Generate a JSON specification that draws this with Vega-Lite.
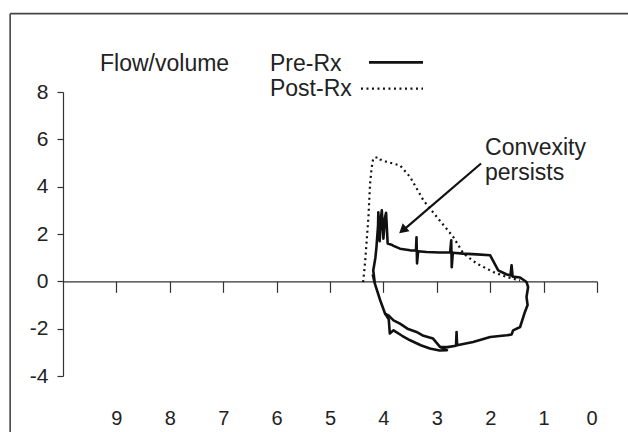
{
  "$schema": "https://vega.github.io/schema/vega-lite/v6.json",
  "width": 534,
  "height": 284,
  "autosize": "none",
  "padding": {"left": 63, "top": 92, "right": 31, "bottom": 56},
  "background": "white",
  "config": {"view": {"stroke": null}, "font": "Liberation Sans"},
  "datasets": {
    "pre": [
      {"seg": "A", "i": 1, "x": 4.16, "y": -0.1},
      {"seg": "A", "i": 2, "x": 4.19, "y": 0.46},
      {"seg": "A", "i": 3, "x": 4.15, "y": 1.0},
      {"seg": "A", "i": 4, "x": 4.13, "y": 1.45},
      {"seg": "A", "i": 5, "x": 4.1, "y": 2.36},
      {"seg": "A", "i": 6, "x": 4.095, "y": 2.92},
      {"seg": "A", "i": 7, "x": 4.07, "y": 1.7},
      {"seg": "A", "i": 8, "x": 4.05, "y": 2.6},
      {"seg": "A", "i": 9, "x": 4.03, "y": 3.0},
      {"seg": "A", "i": 10, "x": 4.0, "y": 1.8},
      {"seg": "A", "i": 11, "x": 3.97, "y": 2.7},
      {"seg": "A", "i": 12, "x": 3.95, "y": 2.9},
      {"seg": "A", "i": 13, "x": 3.92, "y": 1.6},
      {"seg": "A", "i": 14, "x": 3.85, "y": 1.55},
      {"seg": "A", "i": 15, "x": 3.81, "y": 1.5},
      {"seg": "A", "i": 16, "x": 3.69, "y": 1.38},
      {"seg": "A", "i": 17, "x": 3.5, "y": 1.31},
      {"seg": "A", "i": 18, "x": 3.39, "y": 1.3},
      {"seg": "A", "i": 19, "x": 3.38, "y": 1.86},
      {"seg": "A", "i": 20, "x": 3.37, "y": 0.76},
      {"seg": "A", "i": 21, "x": 3.35, "y": 1.27},
      {"seg": "A", "i": 22, "x": 3.19, "y": 1.24},
      {"seg": "A", "i": 23, "x": 2.95, "y": 1.22},
      {"seg": "A", "i": 24, "x": 2.75, "y": 1.23},
      {"seg": "A", "i": 25, "x": 2.73, "y": 1.73},
      {"seg": "A", "i": 26, "x": 2.72, "y": 0.6},
      {"seg": "A", "i": 27, "x": 2.7, "y": 1.21},
      {"seg": "A", "i": 28, "x": 2.5, "y": 1.17},
      {"seg": "A", "i": 29, "x": 2.25, "y": 1.14},
      {"seg": "A", "i": 30, "x": 2.0, "y": 1.1},
      {"seg": "A", "i": 31, "x": 1.95, "y": 0.89},
      {"seg": "A", "i": 32, "x": 1.85, "y": 0.46},
      {"seg": "A", "i": 33, "x": 1.7, "y": 0.3},
      {"seg": "A", "i": 34, "x": 1.62, "y": 0.25},
      {"seg": "A", "i": 35, "x": 1.6, "y": 0.68},
      {"seg": "A", "i": 36, "x": 1.58, "y": 0.2},
      {"seg": "A", "i": 37, "x": 1.44, "y": 0.16},
      {"seg": "A", "i": 38, "x": 1.32, "y": -0.03},
      {"seg": "A", "i": 39, "x": 1.29, "y": -0.24},
      {"seg": "A", "i": 40, "x": 1.32, "y": -0.66},
      {"seg": "A", "i": 41, "x": 1.3, "y": -1.0},
      {"seg": "A", "i": 42, "x": 1.36, "y": -1.36},
      {"seg": "A", "i": 43, "x": 1.44, "y": -1.93},
      {"seg": "A", "i": 44, "x": 1.57, "y": -2.07},
      {"seg": "A", "i": 45, "x": 1.6, "y": -2.25},
      {"seg": "A", "i": 46, "x": 1.69, "y": -2.28},
      {"seg": "A", "i": 47, "x": 2.0, "y": -2.35},
      {"seg": "A", "i": 48, "x": 2.32, "y": -2.56},
      {"seg": "A", "i": 49, "x": 2.62, "y": -2.7},
      {"seg": "A", "i": 50, "x": 2.63, "y": -2.14},
      {"seg": "A", "i": 51, "x": 2.64, "y": -2.72},
      {"seg": "A", "i": 52, "x": 2.8, "y": -2.78},
      {"seg": "A", "i": 53, "x": 2.94, "y": -2.77},
      {"seg": "A", "i": 54, "x": 3.07, "y": -2.42},
      {"seg": "A", "i": 55, "x": 3.25, "y": -2.3},
      {"seg": "A", "i": 56, "x": 3.38, "y": -2.14},
      {"seg": "A", "i": 57, "x": 3.55, "y": -2.0},
      {"seg": "A", "i": 58, "x": 3.69, "y": -1.79},
      {"seg": "A", "i": 59, "x": 3.81, "y": -1.65},
      {"seg": "A", "i": 60, "x": 3.9, "y": -1.45},
      {"seg": "A", "i": 61, "x": 3.97, "y": -1.36},
      {"seg": "A", "i": 62, "x": 4.06, "y": -0.8},
      {"seg": "A", "i": 63, "x": 4.16, "y": -0.1},
      {"seg": "A", "i": 64, "x": 4.2, "y": 0.3},
      {"seg": "B", "i": 1, "x": 2.94, "y": -2.77},
      {"seg": "B", "i": 2, "x": 2.81, "y": -2.91},
      {"seg": "B", "i": 3, "x": 2.95, "y": -2.92},
      {"seg": "B", "i": 4, "x": 3.13, "y": -2.84},
      {"seg": "B", "i": 5, "x": 3.3, "y": -2.7},
      {"seg": "B", "i": 6, "x": 3.5, "y": -2.49},
      {"seg": "B", "i": 7, "x": 3.65, "y": -2.3},
      {"seg": "B", "i": 8, "x": 3.81, "y": -2.07},
      {"seg": "B", "i": 9, "x": 3.88, "y": -2.2},
      {"seg": "B", "i": 10, "x": 3.9, "y": -1.6},
      {"seg": "B", "i": 11, "x": 3.97, "y": -1.36}
    ],
    "post": [
      {"i": 1, "x": 4.38, "y": -0.03},
      {"i": 2, "x": 4.36, "y": 0.4},
      {"i": 3, "x": 4.34, "y": 0.89},
      {"i": 4, "x": 4.28, "y": 2.72},
      {"i": 5, "x": 4.25, "y": 4.12},
      {"i": 6, "x": 4.22, "y": 4.8},
      {"i": 7, "x": 4.19, "y": 5.2},
      {"i": 8, "x": 4.1, "y": 5.25},
      {"i": 9, "x": 4.06, "y": 5.15},
      {"i": 10, "x": 3.94, "y": 5.05},
      {"i": 11, "x": 3.69, "y": 4.9},
      {"i": 12, "x": 3.5, "y": 4.41},
      {"i": 13, "x": 3.25, "y": 3.42},
      {"i": 14, "x": 3.0, "y": 2.72},
      {"i": 15, "x": 2.69, "y": 1.87},
      {"i": 16, "x": 2.5, "y": 1.17},
      {"i": 17, "x": 2.25, "y": 0.75},
      {"i": 18, "x": 1.94, "y": 0.39},
      {"i": 19, "x": 1.69, "y": 0.18},
      {"i": 20, "x": 1.44, "y": 0.04}
    ],
    "labels": [
      {"x": 9.306, "y": 9.2, "t": "Flow/volume"},
      {"x": 6.124, "y": 9.2, "t": "Pre-Rx"},
      {"x": 6.124, "y": 8.14, "t": "Post-Rx"},
      {"x": 2.097, "y": 5.65, "t": "Convexity"},
      {"x": 2.097, "y": 4.58, "t": "persists"}
    ],
    "legendSolid": [{"x": 4.27, "x2": 3.258, "y": 9.25}],
    "legendDot": [{"x": 4.42, "x2": 3.258, "y": 8.14}],
    "borderV": [{"x": 10.99, "y": 11.31, "y2": -7}],
    "borderH": [{"x": 10.99, "x2": -1, "y": 11.31}],
    "arrowLine": [{"x": 2.172, "y": 4.98, "x2": 3.6, "y2": 2.22}],
    "arrowHead": [{"x": 3.618, "y": 2.2}]
  },
  "encoding": {
    "x": {
      "field": "x", "type": "quantitative",
      "scale": {"domain": [0, 10], "reverse": true, "nice": false, "zero": false},
      "axis": {
        "title": null, "orient": "bottom", "offset": -94.67, "grid": false,
        "values": [9, 8, 7, 6, 5, 4, 3, 2, 1, 0],
        "tickSize": 11, "tickColor": "#333", "tickWidth": 1.2,
        "domainColor": "#333", "domainWidth": 1.2,
        "labelPadding": 116, "labelFontSize": 20, "labelColor": "#222",
        "labelFont": "Liberation Sans"
      }
    },
    "y": {
      "field": "y", "type": "quantitative",
      "scale": {"domain": [-4, 8], "nice": false, "zero": false},
      "axis": {
        "title": null, "grid": false,
        "values": [-4, -2, 0, 2, 4, 6, 8],
        "labelExpr": "'' + datum.value",
        "tickSize": 6, "tickColor": "#333", "tickWidth": 1.2,
        "domainColor": "#333", "domainWidth": 1.2,
        "labelPadding": 9, "labelFontSize": 21, "labelColor": "#222",
        "labelFont": "Liberation Sans"
      }
    }
  },
  "layer": [
    {
      "data": {"name": "post"},
      "mark": {"type": "line", "color": "#111", "strokeWidth": 2.2, "strokeDash": [2, 3.5], "strokeCap": "butt"},
      "encoding": {"order": {"field": "i", "type": "quantitative"}}
    },
    {
      "data": {"name": "pre"},
      "mark": {"type": "line", "color": "#111", "strokeWidth": 2.6, "strokeJoin": "round"},
      "encoding": {
        "detail": {"field": "seg", "type": "nominal"},
        "order": {"field": "i", "type": "quantitative"}
      }
    },
    {
      "data": {"name": "labels"},
      "mark": {"type": "text", "align": "left", "baseline": "middle", "fontSize": 23, "color": "#222", "font": "Liberation Sans"},
      "encoding": {"text": {"field": "t", "type": "nominal"}}
    },
    {
      "data": {"name": "legendSolid"},
      "mark": {"type": "rule", "color": "#111", "strokeWidth": 2.6},
      "encoding": {"x2": {"field": "x2"}}
    },
    {
      "data": {"name": "legendDot"},
      "mark": {"type": "rule", "color": "#111", "strokeWidth": 2.2, "strokeDash": [2, 3.5]},
      "encoding": {"x2": {"field": "x2"}}
    },
    {
      "data": {"name": "borderV"},
      "mark": {"type": "rule", "color": "#444", "strokeWidth": 1.6},
      "encoding": {"y2": {"field": "y2"}}
    },
    {
      "data": {"name": "borderH"},
      "mark": {"type": "rule", "color": "#444", "strokeWidth": 1.6},
      "encoding": {"x2": {"field": "x2"}}
    },
    {
      "data": {"name": "arrowLine"},
      "mark": {"type": "rule", "color": "#111", "strokeWidth": 2.2},
      "encoding": {"x2": {"field": "x2"}, "y2": {"field": "y2"}}
    },
    {
      "data": {"name": "arrowHead"},
      "mark": {"type": "point", "shape": "triangle", "filled": true, "color": "#111", "size": 110, "angle": 229.6, "opacity": 1}
    }
  ]
}
